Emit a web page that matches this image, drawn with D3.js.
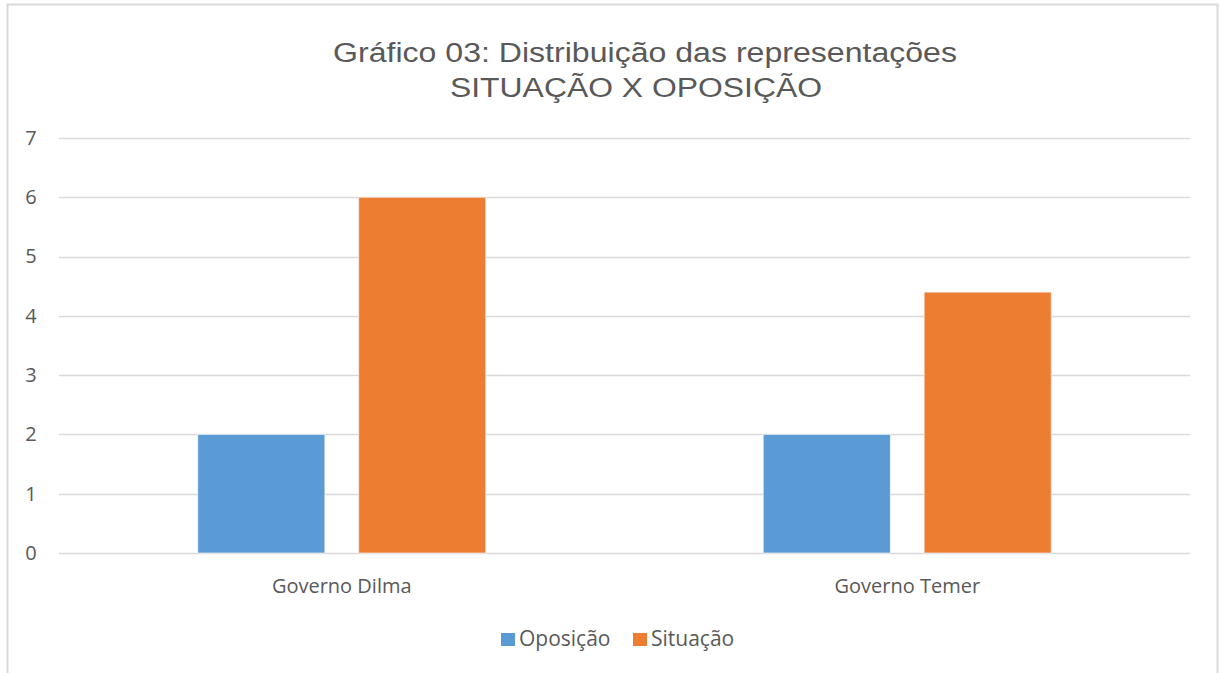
<!DOCTYPE html>
<html>
<head>
<meta charset="utf-8">
<script src="https://cdn.jsdelivr.net/npm/d3@7"></script>
<style>
  body { margin: 0; background: #fff; }
  svg { display: block; }
  .tick text, .cat-label, .legend-label { font-family: "Open Sans", "Liberation Sans", sans-serif; fill: #595959; }
  .chart-title { font-family: "Liberation Sans", Arial, sans-serif; fill: #595959; }
</style>
</head>
<body>
<div id="chart"></div>
<script>
// Categories and series
const categories = ["Governo Dilma", "Governo Temer"];
const seriesNames = ["Oposição", "Situação"];
const oposicao = [2, 2];
const situacao = [6, 4.4];
const yTicks = [0, 1, 2, 3, 4, 5, 6, 7];
const colors = ["#5b9bd5", "#ed7d31"];

const width = 1219, height = 673;
const margin = { top: 138, right: 29, bottom: 120, left: 59 };
const innerWidth = width - margin.left - margin.right;
const innerHeight = height - margin.top - margin.bottom;

const svg = d3.select("#chart").append("svg")
  .attr("width", width)
  .attr("height", height);

// outer chart frame: top, left and right edges (bottom edge is off the picture)
svg.append("path")
  .attr("d", `M7.5,${height} V4.5 H1217.5 V${height}`)
  .attr("fill", "none")
  .attr("stroke", "#d9d9d9")
  .attr("stroke-width", 2);

const title = svg.append("g").attr("class", "chart-title");
title.append("text")
  .attr("x", 645).attr("y", 62)
  .attr("text-anchor", "middle")
  .attr("font-size", 27)
  .attr("textLength", 624)
  .attr("lengthAdjust", "spacingAndGlyphs")
  .text("Gráfico 03: Distribuição das representações");
title.append("text")
  .attr("x", 636).attr("y", 97)
  .attr("text-anchor", "middle")
  .attr("font-size", 27)
  .attr("textLength", 372)
  .attr("lengthAdjust", "spacingAndGlyphs")
  .text("SITUAÇÃO X OPOSIÇÃO");

const plot = svg.append("g").attr("transform", `translate(${margin.left},${margin.top})`);

const y = d3.scaleLinear().domain([0, 7]).range([innerHeight, 0]);
const x0 = d3.scaleBand().domain(categories).range([0, innerWidth]).paddingInner(0).paddingOuter(0);
const x1 = d3.scaleBand().domain(seriesNames).range([0, 288]).paddingInner(0.21);

// gridlines
plot.append("g")
  .selectAll("line")
  .data(yTicks)
  .join("line")
  .attr("x1", 0).attr("x2", innerWidth)
  .attr("y1", d => Math.round(y(d)) + 0.5)
  .attr("y2", d => Math.round(y(d)) + 0.5)
  .attr("stroke", "#d9d9d9")
  .attr("stroke-width", 1.5);

// y axis labels
const yAxis = plot.append("g")
  .call(d3.axisLeft(y).tickValues(yTicks).tickSize(0).tickPadding(23).tickFormat(d3.format("d")));
yAxis.select(".domain").remove();
yAxis.selectAll("text").attr("font-size", 20).attr("text-anchor", "middle").attr("x", -28);

const rows = categories.map((c, i) => ({ category: c, values: [oposicao[i], situacao[i]] }));

const groups = plot.selectAll("g.cat")
  .data(rows)
  .join("g")
  .attr("class", "cat")
  .attr("transform", d => `translate(${x0(d.category) + x0.bandwidth() / 2 - 144},0)`);

groups.selectAll("rect")
  .data(d => d.values.map((v, j) => ({ name: seriesNames[j], value: v, color: colors[j] })))
  .join("rect")
  .attr("x", d => x1(d.name))
  .attr("width", x1.bandwidth())
  .attr("y", d => y(d.value))
  .attr("height", d => innerHeight - y(d.value))
  .attr("fill", d => d.color)
  .attr("stroke", "#fff")
  .attr("stroke-opacity", 0.6)
  .attr("stroke-width", 1);

// category labels
plot.selectAll("text.cat-label")
  .data(categories)
  .join("text")
  .attr("class", "cat-label")
  .attr("x", d => x0(d) + x0.bandwidth() / 2)
  .attr("y", innerHeight + 40)
  .attr("text-anchor", "middle")
  .attr("font-size", 20)
  .text(d => d);

// legend
const legend = svg.append("g").attr("transform", "translate(501,633)");
const legendX = [0, 132];
seriesNames.forEach((name, i) => {
  legend.append("rect")
    .attr("x", legendX[i]).attr("y", 0)
    .attr("width", 14).attr("height", 13)
    .attr("fill", colors[i]);
  legend.append("text")
    .attr("class", "legend-label")
    .attr("x", legendX[i] + 18).attr("y", 13)
    .attr("font-size", 21)
    .text(name);
});
</script>
</body>
</html>
